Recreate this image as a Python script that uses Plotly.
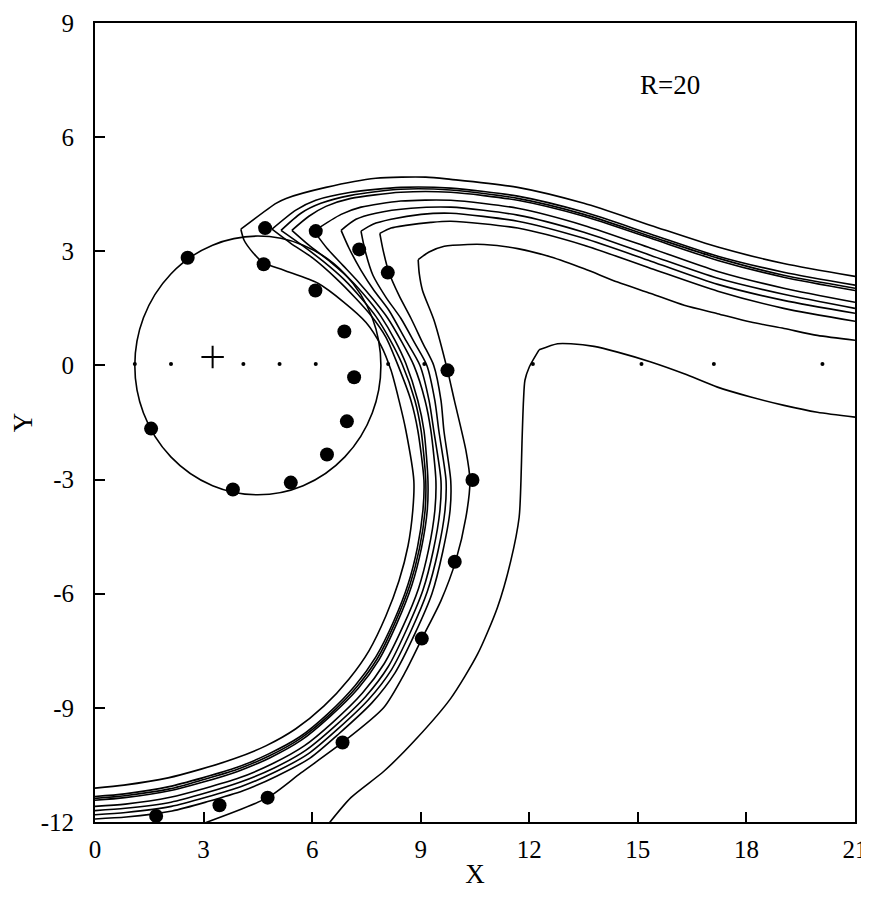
import plotly.graph_objects as go

# ---------------- data ----------------
# contour lines: upper branch (right edge -> tip) then lower branch (tip -> arc -> edge)
C1_X = [21.0, 19.03, 17.21, 15.36, 13.51, 11.68, 9.83, 9.14, 7.76, 6.38, 5.28, 5.0, 4.03,
        4.12, 4.36, 4.64, 5.22, 6.16, 6.88, 7.49, 7.90, 8.18, 8.40, 8.59, 8.81,
        8.78, 8.65, 8.40, 8.04, 7.57, 7.02, 6.33, 5.55, 4.72, 3.84, 2.93, 2.02, 0.80, 0.0]
C1_Y = [2.34, 2.68, 3.11, 3.68, 4.26, 4.68, 4.89, 4.95, 4.92, 4.68, 4.39, 4.26, 3.58,
        3.29, 2.97, 2.71, 2.50, 2.16, 1.66, 1.13, 0.53, -0.13, -0.92, -1.71, -3.03,
        -3.82, -4.74, -5.66, -6.58, -7.50, -8.24, -8.95, -9.55, -10.0, -10.34, -10.61, -10.84, -11.03, -11.11]

C2_X = [21.0, 19.03, 17.21, 15.36, 13.51, 11.68, 9.83, 8.45, 7.07, 6.10, 5.55, 4.89,
        5.41, 6.02, 6.66, 7.21, 7.62, 8.04, 8.34, 8.73, 8.92, 9.09,
        9.06, 8.91, 8.65, 8.26, 7.76, 7.19, 6.44, 5.66, 4.80, 3.91, 2.97, 2.05, 0.82, 0.0]
C2_Y = [2.11, 2.45, 2.87, 3.45, 4.03, 4.45, 4.66, 4.68, 4.55, 4.34, 4.08, 3.58,
        3.21, 2.82, 2.29, 1.76, 1.32, 0.74, 0.08, -0.92, -1.71, -3.03,
        -3.82, -4.78, -5.75, -6.71, -7.66, -8.41, -9.15, -9.76, -10.21, -10.57, -10.84, -11.07, -11.26, -11.33]

C3_X = [21.0, 19.03, 17.21, 15.36, 13.51, 11.68, 9.83, 8.45, 7.07, 6.24, 5.69, 5.14,
        5.69, 6.30, 6.88, 7.38, 7.76, 8.15, 8.48, 8.84, 9.01, 9.14,
        9.12, 8.97, 8.70, 8.30, 7.81, 7.23, 6.47, 5.68, 4.82, 3.92, 2.98, 2.06, 0.82, 0.0]
C3_Y = [2.03, 2.37, 2.82, 3.39, 3.97, 4.39, 4.61, 4.63, 4.47, 4.26, 4.0, 3.55,
        3.18, 2.74, 2.26, 1.74, 1.29, 0.68, 0.05, -0.92, -1.71, -3.03,
        -3.82, -4.79, -5.77, -6.74, -7.69, -8.45, -9.19, -9.80, -10.26, -10.62, -10.89, -11.13, -11.31, -11.38]

C4_X = [21.0, 19.03, 17.21, 15.36, 13.51, 11.68, 9.83, 8.45, 7.07, 6.38, 5.91, 5.44,
        5.91, 6.52, 7.07, 7.54, 7.90, 8.29, 8.59, 8.92, 9.09, 9.20,
        9.18, 9.02, 8.75, 8.35, 7.85, 7.27, 6.49, 5.70, 4.84, 3.94, 2.99, 2.06, 0.82, 0.0]
C4_Y = [1.97, 2.32, 2.76, 3.34, 3.92, 4.34, 4.55, 4.55, 4.39, 4.18, 3.92, 3.55,
        3.16, 2.71, 2.24, 1.74, 1.29, 0.66, 0.05, -0.92, -1.71, -3.03,
        -3.82, -4.80, -5.79, -6.76, -7.73, -8.49, -9.23, -9.85, -10.31, -10.67, -10.95, -11.18, -11.36, -11.43]

C5_X = [21.0, 19.03, 17.21, 15.36, 13.51, 11.68, 9.83, 8.45, 7.35, 6.80, 6.05,
        6.41, 6.85, 7.29, 7.71, 8.09, 8.48, 8.81, 9.12, 9.28, 9.42,
        9.39, 9.22, 8.94, 8.51, 7.99, 7.39, 6.57, 5.78, 4.90, 3.99, 3.02, 2.08, 0.84, 0.0]
C5_Y = [1.66, 2.03, 2.47, 3.08, 3.68, 4.13, 4.34, 4.32, 4.16, 3.97, 3.53,
        3.08, 2.63, 2.18, 1.71, 1.24, 0.61, 0.0, -0.92, -1.71, -3.03,
        -3.82, -4.83, -5.86, -6.86, -7.84, -8.61, -9.38, -10.0, -10.47, -10.84, -11.12, -11.35, -11.53, -11.59]

C6_X = [21.0, 19.03, 17.21, 15.36, 13.51, 11.68, 9.83, 8.73, 7.76, 7.21, 6.80,
        7.02, 7.35, 7.71, 8.12, 8.56, 8.98, 9.23, 9.36, 9.56,
        9.53, 9.35, 9.06, 8.62, 8.10, 7.48, 6.63, 5.83, 4.95, 4.02, 3.05, 2.10, 0.84, 0.0]
C6_Y = [1.50, 1.87, 2.29, 2.89, 3.50, 3.95, 4.16, 4.13, 4.0, 3.84, 3.55,
        3.08, 2.50, 1.97, 1.45, 0.71, 0.0, -0.92, -1.71, -3.03,
        -3.82, -4.85, -5.91, -6.92, -7.92, -8.70, -9.48, -10.11, -10.58, -10.95, -11.24, -11.48, -11.64, -11.70]

C7_X = [21.0, 19.03, 17.21, 15.36, 13.51, 11.68, 9.83, 9.01, 8.18, 7.68, 7.35,
        7.46, 7.68, 8.04, 8.45, 8.84, 9.17, 9.39, 9.50, 9.70,
        9.67, 9.48, 9.18, 8.73, 8.19, 7.56, 6.68, 5.89, 4.99, 4.06, 3.07, 2.11, 0.85, 0.0]
C7_Y = [1.37, 1.71, 2.13, 2.74, 3.34, 3.79, 4.0, 3.97, 3.84, 3.71, 3.53,
        3.03, 2.37, 1.79, 1.24, 0.58, 0.0, -0.92, -1.71, -3.03,
        -3.82, -4.87, -5.95, -6.98, -8.0, -8.78, -9.58, -10.21, -10.68, -11.06, -11.35, -11.59, -11.75, -11.81]

C8_X = [21.0, 19.03, 17.21, 15.36, 13.51, 11.68, 9.83, 9.28, 8.59, 8.18, 7.87,
        7.96, 8.12, 8.40, 8.73, 9.06, 9.36, 9.56, 9.64, 9.83,
        9.81, 9.61, 9.31, 8.84, 8.29, 7.65, 6.74, 5.94, 5.03, 4.09, 3.09, 2.13, 0.86, 0.0]
C8_Y = [1.16, 1.50, 1.95, 2.55, 3.16, 3.61, 3.79, 3.76, 3.68, 3.61, 3.47,
        3.03, 2.45, 1.84, 1.24, 0.58, 0.0, -0.92, -1.71, -3.03,
        -3.82, -4.89, -6.0, -7.05, -8.08, -8.87, -9.68, -10.32, -10.79, -11.18, -11.47, -11.71, -11.87, -11.92]

C9_X = [21.0, 19.96, 19.04, 18.12, 17.20, 16.28, 15.36, 14.44, 13.52, 12.60, 11.68, 10.75, 10.30,
        9.65, 9.23, 8.93, 8.96, 9.05, 9.37, 9.74, 9.93, 10.25, 10.36, 10.25, 9.97, 9.56,
        9.05, 8.59, 7.98, 6.84, 5.69, 4.77, 3.02]
C9_Y = [0.66, 0.79, 0.97, 1.14, 1.36, 1.58, 1.89, 2.19, 2.54, 2.85, 3.07, 3.18, 3.18,
        3.13, 2.98, 2.78, 2.41, 1.97, 1.18, -0.13, -0.92, -2.24, -3.03, -3.99, -5.13, -6.18,
        -7.15, -8.03, -8.99, -9.91, -10.71, -11.36, -12.03]

C10_X = [21.0, 19.96, 19.04, 18.12, 17.20, 16.28, 15.36, 14.44, 13.79, 13.15, 12.78, 12.27,
         12.0, 11.88, 11.84, 11.80, 11.77, 11.72, 11.49, 11.12, 10.57, 9.83, 8.91, 7.99, 7.07, 6.47]
C10_Y = [-1.36, -1.23, -1.05, -0.83, -0.57, -0.22, 0.09, 0.35, 0.50, 0.57, 0.57, 0.41,
         -0.04, -0.39, -0.92, -1.97, -3.03, -3.99, -5.13, -6.36, -7.59, -8.75, -9.78, -10.66, -11.36, -12.03]

CONTOURS = [(C1_X, C1_Y), (C2_X, C2_Y), (C3_X, C3_Y), (C4_X, C4_Y), (C5_X, C5_Y),
            (C6_X, C6_Y), (C7_X, C7_Y), (C8_X, C8_Y), (C9_X, C9_Y), (C10_X, C10_Y)]
# index of the sharp tip (corner) of each contour
TIP_INDEX = [12, 11, 11, 11, 10, 10, 10, 10, 15, 11]

# vortex circle
CIRCLE_CX = 4.5
CIRCLE_CY = 0.0
CIRCLE_R = 3.4

# large particles
PART_X = [4.70, 2.56, 4.66, 6.10, 7.30, 8.09, 6.09, 6.89, 7.16, 6.96, 6.41, 5.41, 3.81, 1.55,
          9.74, 10.43, 9.94, 9.03, 6.84, 4.77, 3.44, 1.69]
PART_Y = [3.61, 2.83, 2.66, 3.53, 3.05, 2.44, 1.97, 0.89, -0.31, -1.47, -2.34, -3.08, -3.26, -1.66,
          -0.13, -3.01, -5.16, -7.18, -9.91, -11.36, -11.56, -11.84]

# small points on the axis
SMALL_X = [1.1, 2.1, 4.1, 5.1, 6.1, 8.1, 9.1, 12.1, 15.1, 17.1, 20.1]
SMALL_Y = [0.04] * len(SMALL_X)

# vortex centre mark
CENTER_X = [3.25]
CENTER_Y = [0.22]

X_TICKS = [0, 3, 6, 9, 12, 15, 18, 21]
Y_TICKS = [-12, -9, -6, -3, 0, 3, 6, 9]
LABEL_TEXT = "R=20"
LABEL_POS = (15.9, 7.37)

# ---------------- figure ----------------
FONT = "Liberation Serif"
fig = go.Figure()

for (cx, cy), tip in zip(CONTOURS, TIP_INDEX):
    for xs, ys in ((cx[:tip + 1], cy[:tip + 1]), (cx[tip:], cy[tip:])):
        fig.add_trace(go.Scatter(x=xs, y=ys, mode="lines",
                                 line=dict(color="black", width=1.6, shape="spline", smoothing=0.7),
                                 hoverinfo="skip", showlegend=False))

fig.add_shape(type="circle", xref="x", yref="y",
              x0=CIRCLE_CX - CIRCLE_R, x1=CIRCLE_CX + CIRCLE_R,
              y0=CIRCLE_CY - CIRCLE_R, y1=CIRCLE_CY + CIRCLE_R,
              line=dict(color="black", width=1.6), layer="below")

fig.add_trace(go.Scatter(x=SMALL_X, y=SMALL_Y, mode="markers",
                         marker=dict(size=4, color="black"), showlegend=False))
fig.add_trace(go.Scatter(x=CENTER_X, y=CENTER_Y, mode="markers",
                         marker=dict(symbol="cross-thin", size=16,
                                     line=dict(color="black", width=2)),
                         showlegend=False))
fig.add_trace(go.Scatter(x=PART_X, y=PART_Y, mode="markers",
                         marker=dict(size=14, color="black"), showlegend=False))

fig.add_annotation(x=LABEL_POS[0], y=LABEL_POS[1], xref="x", yref="y",
                   text=LABEL_TEXT, showarrow=False,
                   font=dict(family=FONT, size=27, color="black"))

axis_common = dict(showgrid=False, zeroline=False, showline=True, linecolor="black",
                   linewidth=2, mirror=True, ticks="inside", ticklen=10, tickwidth=2,
                   tickcolor="black", automargin=False,
                   tickfont=dict(family=FONT, size=25, color="black"))

fig.update_xaxes(range=[0, 21], tickvals=X_TICKS, ticktext=[str(v) for v in X_TICKS],
                 title=dict(text="X", font=dict(family=FONT, size=27, color="black"), standoff=2),
                 ticklabelstandoff=4, ticklabeloverflow="allow", **axis_common)
fig.update_yaxes(range=[-12, 9], tickvals=Y_TICKS, ticktext=[str(v) for v in Y_TICKS],
                 title=dict(text="Y", font=dict(family=FONT, size=27, color="black"), standoff=12),
                 ticklabelstandoff=14, ticklabeloverflow="allow", **axis_common)

# the page adds an 8 px body margin, so the figure is sized to fit inside the window
fig.update_layout(width=861, height=882, margin=dict(l=87, r=14, t=15, b=68),
                  plot_bgcolor="white", paper_bgcolor="white", showlegend=False)

fig.write_html("out.html")
